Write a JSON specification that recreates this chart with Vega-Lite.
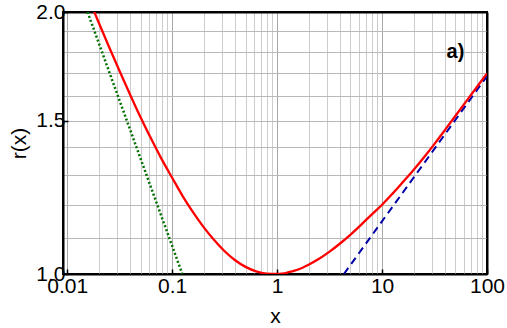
{
  "$schema": "https://vega.github.io/schema/vega-lite/v6.json",
  "width": 424,
  "height": 262,
  "autosize": "none",
  "padding": {"left": 63, "top": 12, "right": 20, "bottom": 54},
  "background": "white",
  "config": {
    "view": {"stroke": "black", "strokeWidth": 2},
    "font": "Liberation Sans",
    "axis": {"labelFont": "Liberation Sans", "titleFont": "Liberation Sans", "labelColor": "black", "titleColor": "black", "titleFontWeight": "normal"}
  },
  "data": {
    "values": [
      {"s": "red", "x": 0.01585, "r": 2.08},
      {"s": "red", "x": 0.01995, "r": 1.945},
      {"s": "red", "x": 0.02512, "r": 1.822},
      {"s": "red", "x": 0.03162, "r": 1.71},
      {"s": "red", "x": 0.03981, "r": 1.607},
      {"s": "red", "x": 0.05012, "r": 1.513},
      {"s": "red", "x": 0.0631, "r": 1.43},
      {"s": "red", "x": 0.07943, "r": 1.355},
      {"s": "red", "x": 0.1, "r": 1.29},
      {"s": "red", "x": 0.1259, "r": 1.229},
      {"s": "red", "x": 0.1585, "r": 1.177},
      {"s": "red", "x": 0.1995, "r": 1.132},
      {"s": "red", "x": 0.2512, "r": 1.094},
      {"s": "red", "x": 0.3162, "r": 1.062},
      {"s": "red", "x": 0.3981, "r": 1.037},
      {"s": "red", "x": 0.5012, "r": 1.019},
      {"s": "red", "x": 0.631, "r": 1.007},
      {"s": "red", "x": 0.7943, "r": 1.001},
      {"s": "red", "x": 1, "r": 1.0},
      {"s": "red", "x": 1.259, "r": 1.004},
      {"s": "red", "x": 1.585, "r": 1.012},
      {"s": "red", "x": 1.995, "r": 1.025},
      {"s": "red", "x": 2.512, "r": 1.041},
      {"s": "red", "x": 3.162, "r": 1.061},
      {"s": "red", "x": 3.981, "r": 1.084},
      {"s": "red", "x": 5.012, "r": 1.11},
      {"s": "red", "x": 6.31, "r": 1.139},
      {"s": "red", "x": 7.943, "r": 1.17},
      {"s": "red", "x": 10, "r": 1.201},
      {"s": "red", "x": 12.59, "r": 1.237},
      {"s": "red", "x": 15.85, "r": 1.276},
      {"s": "red", "x": 19.95, "r": 1.317},
      {"s": "red", "x": 25.12, "r": 1.362},
      {"s": "red", "x": 31.62, "r": 1.411},
      {"s": "red", "x": 39.81, "r": 1.464},
      {"s": "red", "x": 50.12, "r": 1.52},
      {"s": "red", "x": 63.1, "r": 1.578},
      {"s": "red", "x": 79.43, "r": 1.638},
      {"s": "red", "x": 100, "r": 1.7},
      {"s": "green", "x": 0.015625, "r": 2.0},
      {"s": "green", "x": 0.125, "r": 1.0},
      {"s": "blue", "x": 4.33, "r": 1.0},
      {"s": "blue", "x": 100, "r": 1.6876}
    ]
  },
  "layer": [
    {
      "encoding": {
        "x": {
          "field": "x", "type": "quantitative",
          "scale": {"type": "log", "domain": [0.00912, 100], "nice": false},
          "axis": {
            "title": "x", "titleFontSize": 21, "titlePadding": 9,
            "values": [0.01,0.02,0.03,0.04,0.05,0.06,0.07,0.08,0.09,0.1,0.2,0.3,0.4,0.5,0.6,0.7,0.8,0.9,1,2,3,4,5,6,7,8,9,10,20,30,40,50,60,70,80,90,100],
            "labelExpr": "datum.value == 0.01 ? '0.01' : datum.value == 0.1 ? '0.1' : datum.value == 1 ? '1' : datum.value == 10 ? '10' : datum.value == 100 ? '100' : ''",
            "labelFontSize": 21, "labelPadding": 6, "labelFlush": false, "labelOverlap": false,
            "grid": true,
            "gridColor": {"condition": {"test": "datum.value == 0.01 || datum.value == 0.1 || datum.value == 1 || datum.value == 10", "value": "#a8a8a8"}, "value": "#cccccc"},
            "gridOpacity": {"condition": {"test": "datum.value == 100", "value": 0}, "value": 1},
            "gridWidth": 1,
            "domain": true, "domainColor": "black", "domainWidth": 2,
            "ticks": true, "tickSize": -5, "tickWidth": 1.5, "tickColor": "black",
            "tickOpacity": {"condition": {"test": "datum.value == 0.01 || datum.value == 0.1 || datum.value == 1 || datum.value == 10 || datum.value == 100", "value": 1}, "value": 0}
          }
        },
        "y": {
          "field": "r", "type": "quantitative",
          "scale": {"type": "log", "domain": [1, 2], "nice": false},
          "axis": {
            "title": "r(x)", "titleFontSize": 21, "titlePadding": 6,
            "values": [1.0,1.1,1.2,1.3,1.4,1.5,1.6,1.7,1.8,1.9,2.0],
            "labelExpr": "datum.value == 1 ? '1.0' : datum.value == 1.5 ? '1.5' : datum.value == 2 ? '2.0' : ''",
            "labelFontSize": 21, "labelPadding": 3, "labelFlush": false, "labelOverlap": false,
            "grid": true, "gridColor": "#b8b8b8", "gridWidth": 1,
            "gridOpacity": {"condition": {"test": "datum.value == 1 || datum.value == 2", "value": 0}, "value": 1},
            "domain": true, "domainColor": "black", "domainWidth": 2,
            "ticks": true, "tickSize": -5, "tickWidth": 1.5, "tickColor": "black",
            "tickOpacity": {"condition": {"test": "datum.value == 1 || datum.value == 1.5 || datum.value == 2", "value": 1}, "value": 0}
          }
        }
      },
      "layer": [
        {
          "transform": [{"filter": "datum.s == 'green'"}],
          "mark": {"type": "line", "clip": true, "color": "#007000", "strokeWidth": 2.5, "strokeDash": [2, 2.2]}
        },
        {
          "transform": [{"filter": "datum.s == 'blue'"}],
          "mark": {"type": "line", "clip": true, "color": "#0000a8", "strokeWidth": 2, "strokeDash": [7.5, 5]}
        },
        {
          "transform": [{"filter": "datum.s == 'red'"}],
          "mark": {"type": "line", "clip": true, "color": "#ff0000", "strokeWidth": 2.3, "interpolate": "monotone"}
        },
        {
          "data": {"values": [{"x": 50, "r": 1.8, "label": "a)"}]},
          "mark": {"type": "text", "font": "Liberation Sans", "fontWeight": "bold", "fontSize": 20, "color": "black", "align": "center", "baseline": "middle"},
          "encoding": {"text": {"field": "label"}}
        }
      ]
    },
    {
      "transform": [{"filter": "datum.s == 'green'"}],
      "mark": {"type": "line", "opacity": 0},
      "encoding": {
        "x": {"field": "x", "type": "quantitative", "axis": {"orient": "top", "title": null, "labels": false, "ticks": false, "grid": false, "domain": true, "domainColor": "black", "domainWidth": 2}},
        "y": {"field": "r", "type": "quantitative", "axis": {"orient": "right", "title": null, "labels": false, "ticks": false, "grid": false, "domain": true, "domainColor": "black", "domainWidth": 2}}
      }
    }
  ],
  "resolve": {"axis": {"x": "independent", "y": "independent"}}
}
